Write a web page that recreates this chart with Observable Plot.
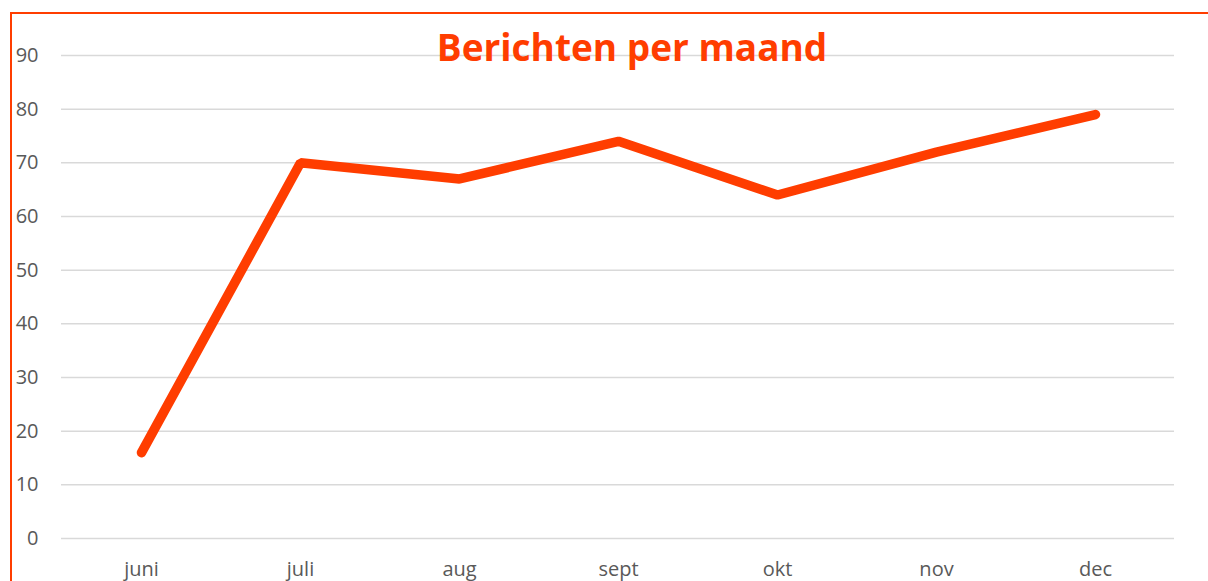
<!DOCTYPE html>
<html>
<head>
<meta charset="utf-8">
<script src="https://cdn.jsdelivr.net/npm/d3@7"></script>
<script src="https://cdn.jsdelivr.net/npm/@observablehq/plot@0.6"></script>
<style>
  html, body { margin: 0; padding: 0; background: #fff; }
  #wrap { position: relative; width: 1208px; height: 581px; overflow: hidden; }
  #frame { position: absolute; left: 10px; top: 12px; width: 1300px; height: 700px;
           border-top: 2px solid #ff3d00; border-left: 2px solid #ff3d00; box-sizing: border-box; }
  #chart { position: absolute; left: 0; top: 0; }
</style>
</head>
<body>
<div id="wrap"><div id="frame"></div><div id="chart"></div></div>
<script>
const months = ["juni", "juli", "aug", "sept", "okt", "nov", "dec"];
const values = [16, 70, 67, 74, 64, 72, 79];
const yTicks = [0, 10, 20, 30, 40, 50, 60, 70, 80, 90];
const titleText = "Berichten per maand";

const data = months.map((m, i) => ({month: m, value: values[i]}));

const chart = Plot.plot({
  width: 1208,
  height: 581,
  marginLeft: 61,
  marginRight: 34,
  marginTop: 55,
  marginBottom: 43,
  style: {fontFamily: "'Open Sans', sans-serif", background: "transparent", overflow: "visible"},
  x: {type: "point", domain: months, padding: 0.5, label: null},
  y: {domain: [0, 90], label: null},
  marks: [
    Plot.gridY(yTicks, {stroke: "#d9d9d9", strokeOpacity: 1, strokeWidth: 1.5}),
    Plot.axisY({ticks: yTicks, tickSize: 0, tickPadding: 23, fontSize: 20, fill: "#595959", label: null}),
    Plot.axisX({tickSize: 0, tickPadding: 23, fontSize: 20, fill: "#595959", label: null}),
    Plot.line(data, {x: "month", y: "value", stroke: "#ff3d00", strokeWidth: 9.5, strokeLinecap: "round", strokeLinejoin: "miter"}),
    Plot.text([titleText], {frameAnchor: "top", dx: 14, dy: -6, lineAnchor: "middle", text: d => d,
      fontSize: 37, fontWeight: "bold", fill: "#ff3d00"})
  ]
});
document.getElementById("chart").appendChild(chart);
</script>
</body>
</html>
